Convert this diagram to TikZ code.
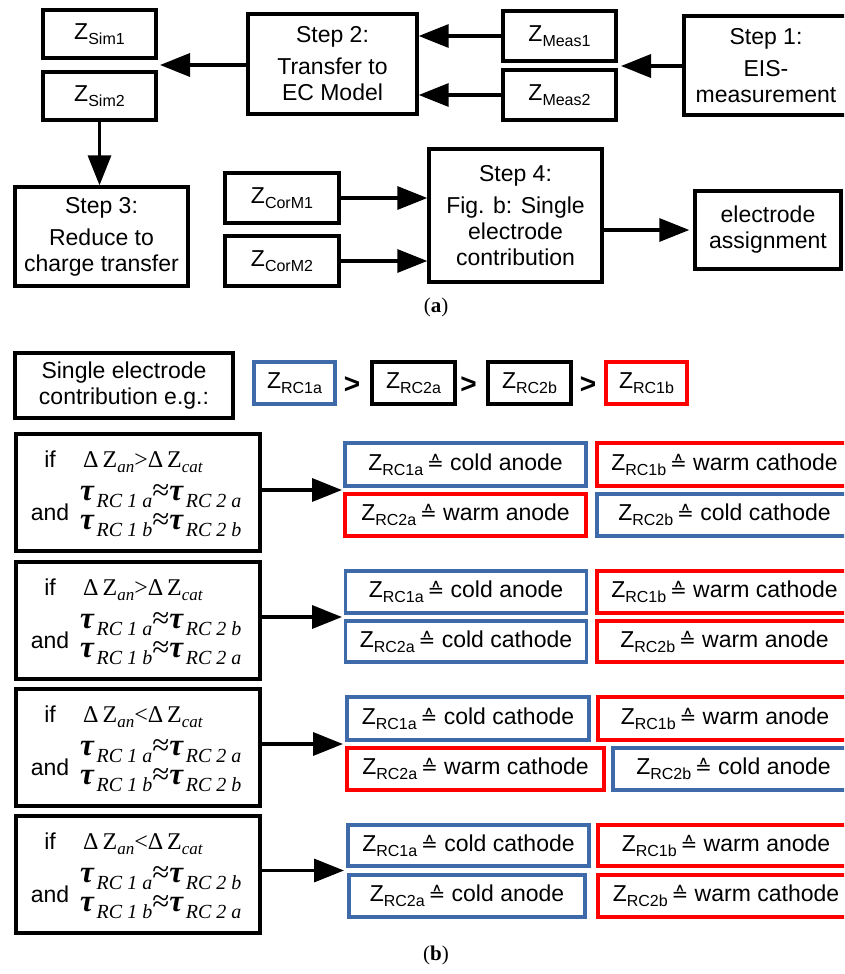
\documentclass[tikz,border=0pt]{standalone}
\usepackage{fontspec}
\setmainfont{Liberation Sans}
\newfontfamily\mser{Liberation Serif}
\newfontfamily\djv{DejaVu Sans}
\usetikzlibrary{arrows.meta}
\definecolor{cblue}{RGB}{62,106,170}
\definecolor{cred}{RGB}{255,0,0}
\newcommand\Zsub[1]{Z\raisebox{-5pt}{\fontsize{16}{16}\selectfont #1}}
\newcommand\corr{{\djv\fontsize{20}{20}\selectfont ≙}}
\newcommand\res[2]{\Zsub{#1}\,\corr\ #2}
\newcommand\tauz{{\mser\fontsize{31}{31}\selectfont\bfseries\itshape τ}}
\newcommand\tsub[1]{\raisebox{-7pt}{\mser\fontsize{20}{20}\selectfont\itshape #1}}
\newcommand\taueq[2]{\tauz\ \tsub{RC #1}{\mser\fontsize{31}{31}\selectfont ≈}\tauz\ \tsub{RC #2}}
\newcommand\dz[1]{{\mser\fontsize{24}{24}\selectfont Δ\,Z\raisebox{-5pt}{\fontsize{17}{17}\selectfont\itshape #1}}}
\newcommand\dzrel[1]{\dz{an}{\mser\fontsize{24}{24}\selectfont #1}\dz{cat}}
\tikzset{
  base/.style={font=\fontsize{23}{26}\selectfont, align=center, inner sep=0pt},
  box/.style={base, draw, line width=3.4pt},
  bbox/.style={base, draw=cblue, line width=3.2pt},
  rbox/.style={base, draw=cred, line width=3.2pt},
  arr/.style={line width=3.4pt, -{Triangle[length=30pt,width=23pt]}},
  lbl/.style={base, anchor=base},
  lblw/.style={inner sep=0pt, anchor=base west},
}
\begin{document}
\begin{tikzpicture}[x=1pt,y=-1pt]
\clip (0,0) rectangle (844,974);
\fill[white] (0,0) rectangle (844,974);
% ---------- panel (a)
\node[box, minimum width=113, minimum height=48] (zsim1) at (99.5,34) {\Zsub{Sim1}};
\node[box, minimum width=113, minimum height=48] (zsim2) at (99.5,96) {\Zsub{Sim2}};
\node[box, minimum width=169, minimum height=100] (step2) at (332.5,64) {Step 2:\\[6pt]Transfer to\\EC Model};
\node[box, minimum width=113, minimum height=50] (zmeas1) at (559.5,36) {\Zsub{Meas1}};
\node[box, minimum width=113, minimum height=50] (zmeas2) at (559.5,95) {\Zsub{Meas2}};
\node[box, minimum width=164, minimum height=99] (step1) at (766,65.5) {Step 1:\\[6pt]EIS-\\measurement};
\node[box, minimum width=173, minimum height=99] (step3) at (101.5,236.5) {Step 3:\\[6pt]Reduce to\\charge transfer};
\node[box, minimum width=114, minimum height=50] (zcor1) at (282,198) {\Zsub{CorM1}};
\node[box, minimum width=114, minimum height=50] (zcor2) at (282,261) {\Zsub{CorM2}};
\node[box, minimum width=173, minimum height=133] (step4) at (515.5,215.5) {Step 4:\\[6pt]Fig. b: Single\\electrode\\contribution};
\node[box, minimum width=146, minimum height=78] (elec) at (768,230) {electrode\\assignment};
\coordinate (pmeas) at (621,66);
\coordinate (psim) at (160,65);
\draw[arr] (step1.west |- pmeas) -- (pmeas);
\draw[arr] (zmeas1.west) -- (step2.east |- zmeas1.west);
\draw[arr] (zmeas2.west) -- (step2.east |- zmeas2.west);
\draw[arr] (step2.west |- psim) -- (psim);
\draw[arr] (zsim2.south) -- (zsim2.south |- step3.north);
\draw[arr] (zcor1.east) -- (step4.west |- zcor1.east);
\draw[arr] (zcor2.east) -- (step4.west |- zcor2.east);
\draw[arr, shorten >=4pt] (step4.east |- elec.west) -- (elec.west);
\node[inner sep=0pt, font=\mser\fontsize{21}{21}\selectfont] (capa) at (436,307) {(\textbf{a})};
% ---------- panel (b)
\node[box, minimum width=218, minimum height=65] (single) at (124,385.5) {Single electrode\\contribution e.g.:};
\node[bbox, minimum width=81, minimum height=42] (t1) at (294.5,383) {\Zsub{RC1a}};
\node[box, line width=3.2pt, minimum width=83, minimum height=42] (t2) at (413.5,383) {\Zsub{RC2a}};
\node[box, line width=3.2pt, minimum width=83, minimum height=42] (t3) at (529.5,383) {\Zsub{RC2b}};
\node[rbox, minimum width=81, minimum height=42] (t4) at (646.5,383) {\Zsub{RC1b}};
\node[base, font=\fontsize{28}{28}\selectfont\bfseries] (g1) at (352,385) {>};
\node[base, font=\fontsize{28}{28}\selectfont\bfseries] (g2) at (468.5,385) {>};
\node[base, font=\fontsize{28}{28}\selectfont\bfseries] (g3) at (588,385) {>};
% condition boxes
\foreach \i/\top/\rel/\la/\lb in {1/434/>/{2 a}/{2 b}, 2/562/>/{2 b}/{2 a}, 3/689/</{2 a}/{2 b}, 4/816/</{2 b}/{2 a}}{
  \node[box, minimum width=244, minimum height=117] (cond\i) at (138,\top+58.5) {};
  \node[lbl] (if\i) at (50,\top+33) {if};
  \node[lbl] (and\i) at (50,\top+86) {and};
  \node[lblw] (ma\i) at (83,\top+33) {\dzrel{\rel}};
  \node[lblw] (mb\i) at (80,\top+66) {\taueq{1 a}{\la}};
  \node[lblw] (mc\i) at (80,\top+95) {\taueq{1 b}{\lb}};
}
% results row 1
\node[bbox, minimum width=241, minimum height=43] (r1a) at (465.5,464.5) {\res{RC1a}{cold anode}};
\node[rbox, minimum width=241, minimum height=42] (r1b) at (465.5,515) {\res{RC2a}{warm anode}};
\node[rbox, minimum width=255, minimum height=43] (r1c) at (724.5,464.5) {\res{RC1b}{warm cathode}};
\node[bbox, minimum width=255, minimum height=42] (r1d) at (724.5,515) {\res{RC2b}{cold cathode}};
% row 2
\node[bbox, minimum width=241, minimum height=42] (r2a) at (466,592) {\res{RC1a}{cold anode}};
\node[bbox, minimum width=241, minimum height=41] (r2b) at (466,641.5) {\res{RC2a}{cold cathode}};
\node[rbox, minimum width=255, minimum height=42] (r2c) at (724.5,592) {\res{RC1b}{warm cathode}};
\node[rbox, minimum width=255, minimum height=41] (r2d) at (724.5,641.5) {\res{RC2b}{warm anode}};
% row 3
\node[bbox, minimum width=242, minimum height=43] (r3a) at (468,718.5) {\res{RC1a}{cold cathode}};
\node[rbox, minimum width=257, minimum height=42] (r3b) at (475.5,769) {\res{RC2a}{warm cathode}};
\node[rbox, minimum width=254, minimum height=43] (r3c) at (725,718.5) {\res{RC1b}{warm anode}};
\node[bbox, minimum width=241, minimum height=42] (r3d) at (733.5,769) {\res{RC2b}{cold anode}};
% row 4
\node[bbox, minimum width=241, minimum height=41] (r4a) at (468.5,845.5) {\res{RC1a}{cold cathode}};
\node[bbox, minimum width=236, minimum height=42] (r4b) at (467,896) {\res{RC2a}{cold anode}};
\node[rbox, minimum width=256, minimum height=41] (r4c) at (726,845.5) {\res{RC1b}{warm anode}};
\node[rbox, minimum width=256, minimum height=42] (r4d) at (726,896) {\res{RC2b}{warm cathode}};
% arrows
\coordinate (m1) at (342,490);
\coordinate (m2) at (342,617);
\coordinate (m3) at (343,744);
\coordinate (m4) at (344,870.5);
\foreach \i in {1,2,3,4}{\draw[arr] (cond\i.east |- m\i) -- (m\i);}
\node[inner sep=0pt, font=\mser\fontsize{21}{21}\selectfont] (capb) at (436,955) {(\textbf{b})};
\end{tikzpicture}
\end{document}
